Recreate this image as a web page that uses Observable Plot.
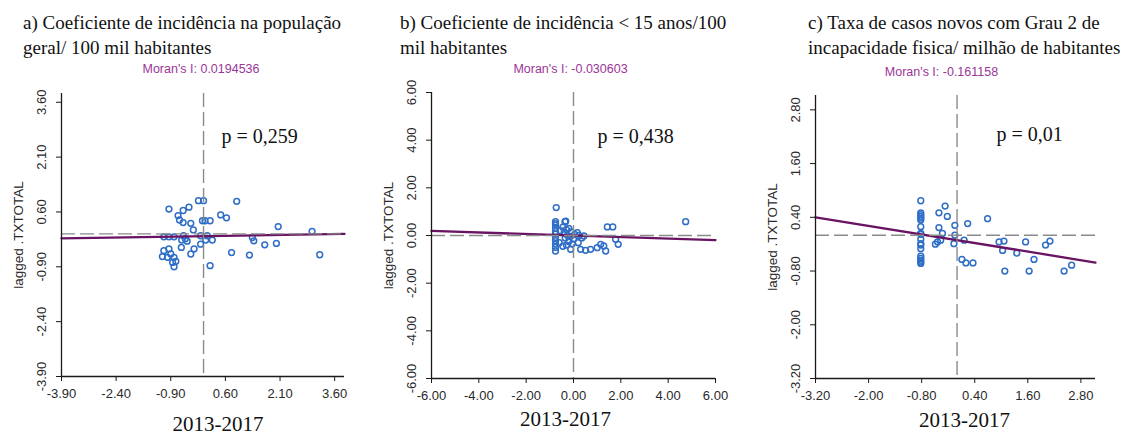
<!DOCTYPE html>
<html><head><meta charset="utf-8">
<script src="https://cdn.jsdelivr.net/npm/d3@7"></script>
<script src="https://cdn.jsdelivr.net/npm/@observablehq/plot@0.6"></script>
<style>
body{margin:0;background:#fff;}
#root{position:relative;width:1126px;height:435px;overflow:hidden;background:#fff;}
.title{position:absolute;top:10px;font-family:"Liberation Serif","Times New Roman",serif;font-size:19px;line-height:25px;color:#111;white-space:nowrap;}
.panel{position:absolute;top:60px;}
</style></head><body><div id="root"></div>
<script>
// ---- data ----
const titles = [
  ["a) Coeficiente de incidência na população", "geral/ 100 mil habitantes"],
  ["b) Coeficiente de incidência < 15 anos/100", "mil habitantes"],
  ["c) Taxa de casos novos com Grau 2 de", "incapacidade fisica/ milhão de habitantes"]
];
const moranLabels = ["Moran's I: 0.0194536", "Moran's I: -0.030603", "Moran's I: -0.161158"];
const pLabels = ["p = 0,259", "p = 0,438", "p = 0,01"];
const xLabel = "2013-2017";
const yLabel = "lagged .TXTOTAL";

const ticksA = [-3.9, -2.4, -0.9, 0.6, 2.1, 3.6];
const ticksB = [-6, -4, -2, 0, 2, 4, 6];
const ticksC = [-3.2, -2.0, -0.8, 0.4, 1.6, 2.8];

const aX = [-0.95,-0.70,-0.56,-0.40,-0.66,-0.56,-0.35,-0.28,-0.14,0.00,0.91,-0.03,0.04,0.18,0.47,0.63,2.05,2.98,
  -1.09,-0.95,-0.81,-0.55,-0.50,-0.60,-0.45,-0.08,0.10,0.06,0.24,1.34,1.38,1.68,2.00,3.19,0.77,1.26,
  -0.08,-0.26,-0.35,-0.61,-1.09,-0.95,-1.13,-0.99,-0.90,-0.81,-0.76,-0.85,-0.81,0.18];
const aY = [0.68,0.50,0.64,0.73,0.38,0.31,0.29,0.11,0.91,0.91,0.89,0.36,0.36,0.36,0.52,0.44,0.20,0.07,
  -0.08,-0.08,-0.08,-0.05,-0.13,-0.17,-0.20,-0.05,-0.05,-0.17,-0.17,-0.10,-0.19,-0.30,-0.26,-0.57,-0.51,-0.58,
  -0.28,-0.41,-0.55,-0.37,-0.46,-0.41,-0.62,-0.64,-0.55,-0.64,-0.75,-0.78,-0.90,-0.87];

const bX = [-0.73,-0.76,-0.76,-0.76,-0.76,-0.76,-0.76,-0.76,-0.76,-0.76,-0.76,-0.76,
  -0.36,-0.45,-0.30,-0.20,-0.55,-0.40,-0.25,-0.10,0.16,-0.35,-0.20,-0.05,-0.30,-0.15,0.00,0.05,-0.60,-0.45,
  -0.12,0.30,0.51,0.72,1.00,1.15,1.28,1.36,1.43,1.66,1.78,1.89,4.74,0.35,0.20,0.23,0.44,-0.33];
const bY = [1.17,0.58,0.50,0.44,0.30,0.16,0.06,-0.08,-0.22,-0.36,-0.50,-0.65,
  0.58,0.35,0.25,0.30,0.20,0.10,0.00,0.15,0.12,-0.10,-0.25,-0.35,-0.40,-0.05,-0.15,0.05,-0.30,-0.45,
  -0.58,-0.58,-0.62,-0.58,-0.51,-0.37,-0.44,-0.65,0.36,0.36,-0.16,-0.37,0.58,-0.10,-0.30,0.00,-0.02,0.60];

const cX = [-0.82,-0.82,-0.82,-0.82,-0.82,-0.82,-0.82,-0.82,-0.82,-0.82,-0.82,-0.82,-0.82,-0.82,-0.82,-0.82,-0.82,-0.82,
  -0.27,-0.41,-0.22,-0.41,-0.33,-0.44,-0.49,-0.37,-0.05,-0.05,-0.07,0.24,0.16,0.69,0.11,0.20,0.36,
  0.95,1.03,1.06,1.08,1.55,1.35,1.74,2.00,2.10,1.63,2.42,2.59];
const cY = [0.77,0.50,0.46,0.42,0.38,0.34,0.19,0.04,0.02,-0.09,-0.19,-0.22,-0.30,-0.47,-0.52,-0.56,-0.60,-0.63,
  0.65,0.50,0.42,0.17,0.04,-0.15,-0.20,-0.11,0.22,0.00,-0.19,0.26,-0.11,0.37,-0.54,-0.62,-0.62,
  -0.15,-0.34,-0.13,-0.80,-0.15,-0.40,-0.54,-0.22,-0.13,-0.80,-0.80,-0.67];

// regression line end points
const fitAX = [-3.9, 3.87], fitAY = [-0.12, 0.0];
const fitBX = [-6, 6],      fitBY = [0.19, -0.19];
const fitCX = [-3.2, 3.13], fitCY = [0.40, -0.61];

// ---- layout ----
const panels = [
  {left:0,   titleLeft:23,  width:370, mL:61, mR:26, mT:33, mB:59, xd:[-3.9,3.87], yd:[-3.9,3.84], ticks:ticksA,
   xs:aX, ys:aY, fx:fitAX, fy:fitAY, pdx:160, pdy:49, xlabDx:15, xlabDy:48, moranDx:-2, moranY:8.5},
  {left:370, titleLeft:400, width:375, mL:61, mR:30, mT:32, mB:57, xd:[-6,6], yd:[-6,6], ticks:ticksB,
   xs:bX, ys:bY, fx:fitBX, fy:fitBY, pdx:166, pdy:50, xlabDx:-8, xlabDy:41, moranDx:-3, moranY:8.5},
  {left:745, titleLeft:808, width:381, mL:70, mR:31, mT:35, mB:57, xd:[-3.2,3.13], yd:[-3.2,3.12], ticks:ticksC,
   xs:cX, ys:cY, fx:fitCX, fy:fitCY, pdx:181, pdy:45, xlabDx:9, xlabDy:42, moranDx:-14, moranY:11.5}
];

const root = document.getElementById("root");
const fmt = d => d.toFixed(2);
const serif = "Liberation Serif, Times New Roman, serif";

panels.forEach((p, i) => {
  const t = document.createElement("div");
  t.className = "title";
  t.style.left = p.titleLeft + "px";
  t.innerHTML = titles[i].map(s => s.replace(/</g, "&lt;")).join("<br>");
  root.appendChild(t);

  const pts = p.xs.map((x, k) => ({x, y: p.ys[k]}));
  const fit = p.fx.map((x, k) => ({x, y: p.fy[k]}));
  const chart = Plot.plot({
    width: p.width, height: 375,
    marginLeft: p.mL, marginRight: p.mR, marginTop: p.mT, marginBottom: p.mB,
    x: {domain: p.xd}, y: {domain: p.yd},
    style: {fontFamily: "Liberation Sans, Arial, sans-serif", fontSize: "13px", color: "#2a2a2a", background: "transparent", overflow: "visible"},
    marks: [
      Plot.dot(pts, {x: "x", y: "y", r: 2.9, stroke: "#2f6ec6", strokeWidth: 1.5, fill: "none"}),
      Plot.line(fit, {x: "x", y: "y", stroke: "#6a1363", strokeWidth: 2.3}),
      Plot.ruleX([0], {stroke: "#8a8a8a", strokeWidth: 1.4, strokeDasharray: "14,5"}),
      Plot.ruleY([0], {stroke: "#8a8a8a", strokeWidth: 1.4, strokeDasharray: "14,5"}),
      Plot.ruleX([p.xd[0]], {stroke: "#1a1a1a", strokeWidth: 1.3}),
      Plot.ruleY([p.yd[0]], {stroke: "#1a1a1a", strokeWidth: 1.3}),
      Plot.axisX({ticks: p.ticks, tickFormat: fmt, tickSize: 5, tickPadding: 7, label: null, stroke: "#1a1a1a", fontSize: 13}),
      Plot.axisY({ticks: p.ticks, tickFormat: fmt, tickRotate: -90, tickSize: 5, tickPadding: 11, label: null, stroke: "#1a1a1a", fontSize: 13}),
      Plot.text([moranLabels[i]], {frameAnchor: "top", text: d => d, dx: p.moranDx, dy: p.moranY - p.mT, lineAnchor: "middle", fill: "#9c3597", fontSize: 12.5}),
      Plot.text([pLabels[i]], {frameAnchor: "top-left", text: d => d, textAnchor: "start", lineAnchor: "bottom", dx: p.pdx, dy: p.pdy, fontFamily: serif, fontSize: 20, fill: "#111"}),
      Plot.text([xLabel], {frameAnchor: "bottom", text: d => d, lineAnchor: "middle", dx: p.xlabDx, dy: p.xlabDy, fontFamily: serif, fontSize: 21, fill: "#111"}),
      Plot.text([yLabel], {frameAnchor: "left", text: d => d, rotate: -90, textAnchor: "middle", lineAnchor: "middle", dx: -43, fontSize: 13.5, fill: "#2a2a2a"})
    ]
  });
  chart.classList.add("panel");
  chart.style.left = p.left + "px";
  root.appendChild(chart);
});
</script></body></html>
